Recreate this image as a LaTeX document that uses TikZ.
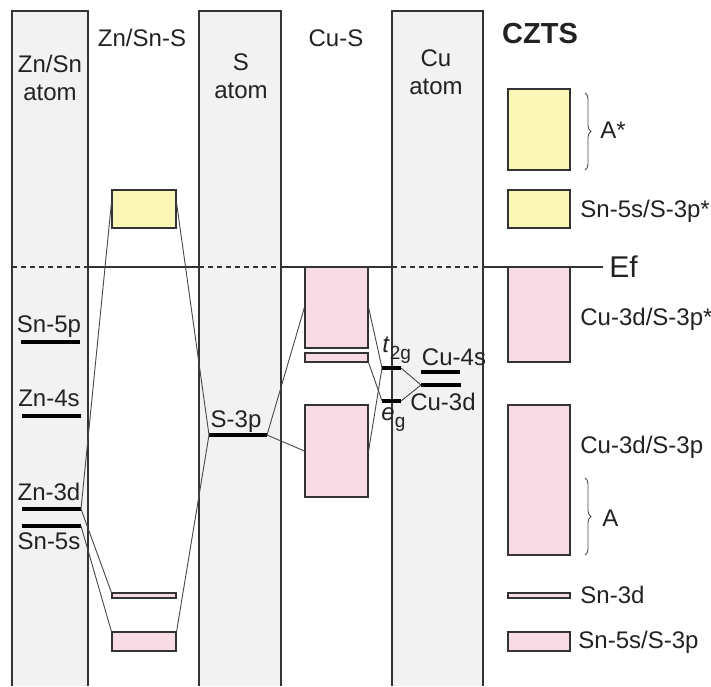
\documentclass[tikz,border=0pt]{standalone}
\usepackage{fontspec}
\setmainfont{Liberation Sans}
\usetikzlibrary{calc,fit,positioning,decorations.pathreplacing}
\definecolor{colgray}{RGB}{242,242,242}
\definecolor{bandyel}{RGB}{249,246,182}
\definecolor{bandpink}{RGB}{247,219,229}
\definecolor{edge}{RGB}{51,51,51}
\definecolor{ink}{RGB}{34,34,34}
\tikzset{
  colbox/.style ={draw=edge,line width=0.6pt},
  band/.style   ={draw=edge,line width=0.6pt,inner sep=0pt},
  yband/.style  ={band,fill=bandyel},
  pband/.style  ={band,fill=bandpink},
  lvl/.style    ={line width=2.2pt,black},
  link/.style   ={draw=black!72,line width=0.45pt},
  efline/.style ={draw=edge,line width=0.6pt},
  lab/.style    ={text=ink,inner sep=0pt},
  brc/.style    ={draw=black!70,line width=0.45pt,decorate,decoration={brace,amplitude=3pt}},
}
\newcommand{\sublab}[1]{\raisebox{-3.5pt}{\fontsize{9.5}{11}\selectfont #1}}

\begin{document}
\begin{tikzpicture}[x=0.5pt,y=-0.5pt,font=\fontsize{12}{14}\selectfont]
  \useasboundingbox (0,0) rectangle (711,686);
  % atom columns
  \foreach \xa/\xb in {12/88,199/281,392/483}{
    \fill[colgray] (\xa,11) rectangle (\xb,686);
    \draw[colbox] (\xa,686) -- (\xa,11) -- (\xb,11) -- (\xb,686);
  }
  % Fermi level
  \draw[efline] (88,267) -- (199,267) (281,267) -- (392,267) (483,267) -- (603,267) coordinate (efR);
  \foreach \xa/\xb in {12/88,199/281,392/483}
    \draw[efline,dash pattern=on 2.5pt off 2pt] (\xa,267) -- (\xb,267);
  \node[lab,anchor=west,font=\fontsize{15}{17}\selectfont] (ef) at ([xshift=3pt]efR) {Ef};

  % titles
  \node[lab,anchor=base,align=center] (tznsn) at (50,100) {Zn/Sn\\atom};
  \node[lab,anchor=base] (tznsns) at (142,46) {Zn/Sn-S};
  \node[lab,anchor=base,align=center] (tsat) at (241,98) {S\\atom};
  \node[lab,anchor=base] (tcus) at (336,46) {Cu-S};
  \node[lab,anchor=base,align=center] (tcuat) at (436,94) {Cu\\atom};
  \node[lab,anchor=base,font=\fontsize{14.5}{17}\selectfont\bfseries] (tczts) at (540,43) {CZTS};

  % Zn/Sn-S bands
  \node[yband,fit={(112,190)(176,228)}] (zsA) {};
  \node[pband,fit={(112,593)(176,598)}] (zsN) {};
  \node[pband,fit={(112,632)(176,651)}] (zsB) {};
  % Cu-S bands
  \node[pband,fit={(305,267)(368,348)}] (csA) {};
  \node[pband,fit={(305,353)(368,362)}] (csN) {};
  \node[pband,fit={(305,405)(368,497)}] (csB) {};

  % atomic levels
  \draw[lvl] (21,342) coordinate (sn5pL) -- (80,342) coordinate (sn5pR);
  \draw[lvl] (22,416) coordinate (zn4sL) -- (81,416) coordinate (zn4sR);
  \draw[lvl] (22,509) coordinate (zn3dL) -- (81,509) coordinate (zn3dR);
  \draw[lvl] (22,526) coordinate (sn5sL) -- (81,526) coordinate (sn5sR);
  \draw[lvl] (209,435) coordinate (s3pL) -- (267,435) coordinate (s3pR);
  \draw[lvl] (382,368) coordinate (tgL) -- (401,368) coordinate (tgR);
  \draw[lvl] (382,401) coordinate (egL) -- (401,401) coordinate (egR);
  \draw[lvl] (421,372) coordinate (cu4sL) -- (460,372) coordinate (cu4sR);
  \draw[lvl] (421,385) coordinate (cu3dL) -- (461,385) coordinate (cu3dR);

  \node[lab,anchor=base] (lsn5p) at (49,332) {Sn-5p};
  \node[lab,anchor=base] (lzn4s) at (49,406) {Zn-4s};
  \node[lab,anchor=base] (lzn3d) at (49,500) {Zn-3d};
  \node[lab,anchor=base] (lsn5s) at (49,549) {Sn-5s};
  \node[lab,anchor=base] (ls3p) at (236,427) {S-3p};
  \node[lab,anchor=base west] (ltg) at (382,352) {\textit{t}\sublab{2g}};
  \node[lab,anchor=base west] (leg) at (381,420) {\textit{e}\sublab{g}};
  \node[lab,anchor=base] (lcu4s) at (454,365) {Cu-4s};
  \node[lab,anchor=base] (lcu3d) at (443,410) {Cu-3d};

  % correlation lines
  \draw[link] ($(zsA.north west)!0.35!(zsA.south west)$) -- (zn3dR);
  \draw[link] ($(zsA.north east)!0.35!(zsA.south east)$) -- (s3pL);
  \draw[link] (zn3dR) -- (zsN.north west);
  \draw[link] (sn5sR) -- (zsB.north west);
  \draw[link] (s3pL) -- (zsB.north east);
  \draw[link] (s3pR) -- (csA.west);
  \draw[link] (s3pR) -- (csB.west);
  \draw[link] (csA.east) -- (tgL);
  \draw[link] (csB.east) -- (tgL);
  \draw[link] (csN.south east) -- (egL);
  \draw[link] (tgR) -- (cu3dL);
  \draw[link] (egR) -- (cu3dL);

  % CZTS legend
  \node[yband,fit={(508,89)(570,170)}] (lgAs) {};
  \node[yband,fit={(508,190)(570,228)}] (lgSnAs) {};
  \node[pband,fit={(508,267)(570,362)}] (lgCuAs) {};
  \node[pband,fit={(508,405)(570,555)}] (lgCu) {};
  \node[pband,fit={(508,593)(570,598)}] (lgSn3d) {};
  \node[pband,fit={(508,632)(570,651)}] (lgSn) {};
  \draw[brc] (585,93) -- (585,170) coordinate[midway] (brAs);
  \draw[brc] (585,478) -- (585,555) coordinate[midway] (brA);
  \node[lab,anchor=base west] (lAs) at (600,138) {A*};
  \node[lab,anchor=base west] (lSnAs) at (580,217) {Sn-5s/S-3p*};
  \node[lab,anchor=base west] (lCuAs) at (580,325) {Cu-3d/S-3p*};
  \node[lab,anchor=base west] (lCu) at (580,453) {Cu-3d/S-3p};
  \node[lab,anchor=base west] (lA) at (602,526) {A};
  \node[lab,anchor=base west] (lSn3d) at (580,603) {Sn-3d};
  \node[lab,anchor=base west] (lSn) at (578,648) {Sn-5s/S-3p};
\end{tikzpicture}
\end{document}
